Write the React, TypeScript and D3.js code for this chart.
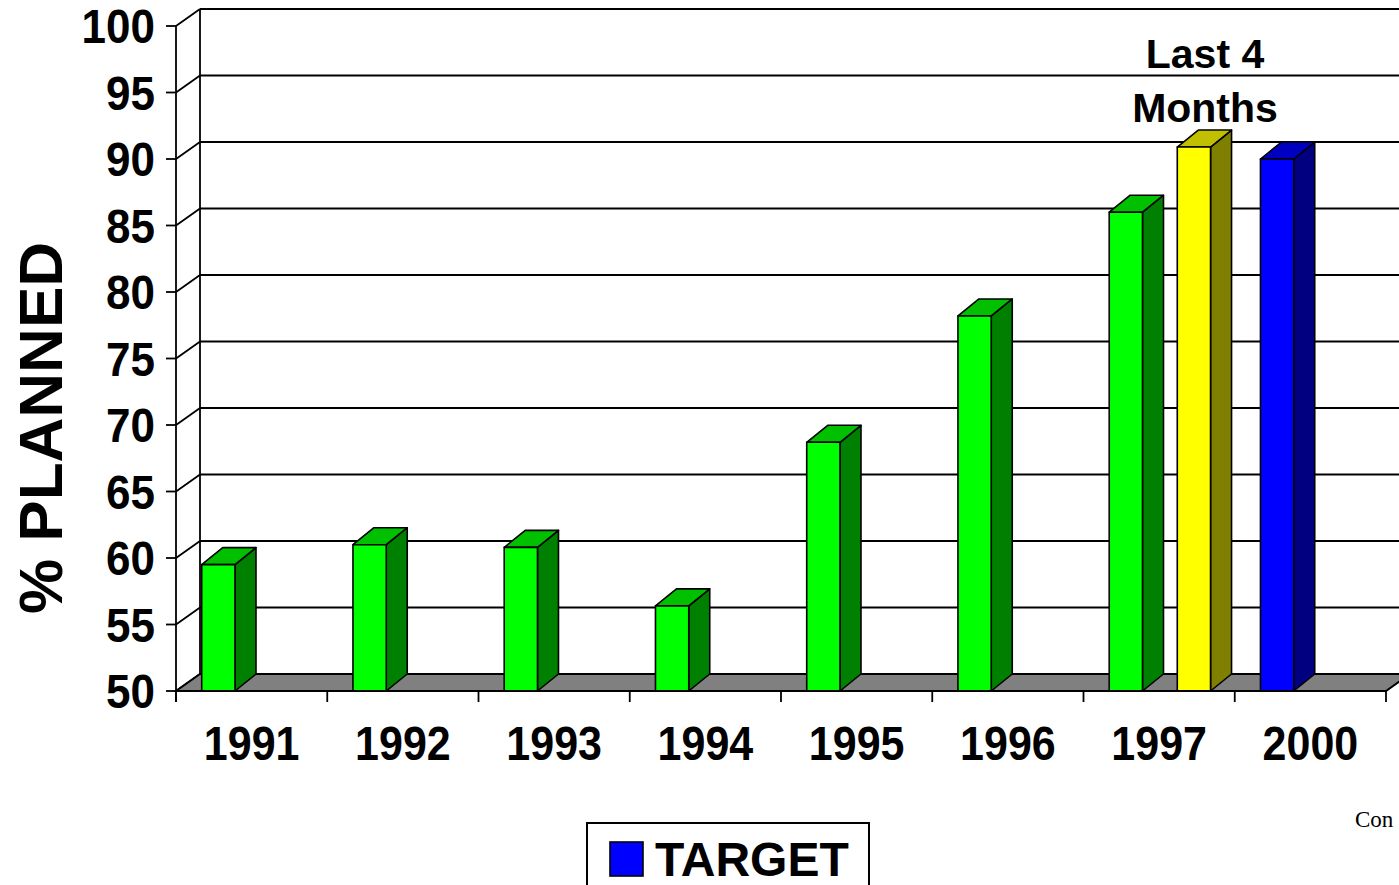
import React from "react";
import * as d3 from "d3";

const categories = ["1991", "1992", "1993", "1994", "1995", "1996", "1997", "2000"];
const actualValues: (number | null)[] = [59.5, 61.0, 60.8, 56.4, 68.7, 78.2, 86.0, null];
const last4Values: (number | null)[] = [null, null, null, null, null, null, 90.9, null];
const targetValues: (number | null)[] = [null, null, null, null, null, null, null, 90.0];
const yTicks = [50, 55, 60, 65, 70, 75, 80, 85, 90, 95, 100];

const series = [
  { name: "ACTUAL", values: actualValues, slot: 0, front: "#00FF00", top: "#00C000", side: "#008000" },
  { name: "Last 4 Months", values: last4Values, slot: 1, front: "#FFFF00", top: "#C0C000", side: "#808000" },
  { name: "TARGET", values: targetValues, slot: 0, front: "#0000FF", top: "#0000C0", side: "#000080" },
];

const W = 1399;
const H = 885;
const X0 = 176;
const X1 = 1386;
const Y0 = 691;
const Y1 = 26;
const FD = { dx: 24, dy: -17 }; // floor / wall depth
const BD = { dx: 21, dy: -17 }; // bar depth
const slotOffset = [0.17, 0.62];
const slotWidth = 0.22;

export default function App() {
  const x = d3.scaleBand<string>().domain(categories).range([X0, X1]).padding(0);
  const y = d3.scaleLinear().domain([50, 100]).range([Y0, Y1]);
  const bw = x.bandwidth();
  const backRight = W + 40;

  const bars: JSX.Element[] = [];
  series.forEach((s, si) => {
    s.values.forEach((v, i) => {
      if (v == null) return;
      const xl = (x(categories[i]) as number) + slotOffset[s.slot] * bw;
      const xr = xl + slotWidth * bw;
      const yt = y(v);
      const yb = y(50);
      const pts = (a: number[][]) => a.map((p) => p.join(",")).join(" ");
      bars.push(
        <g key={`b${si}-${i}`} stroke="#000" strokeWidth={1.6} strokeLinejoin="round">
          <polygon points={pts([[xr, yb], [xr + BD.dx, yb + BD.dy], [xr + BD.dx, yt + BD.dy], [xr, yt]])} fill={s.side} />
          <polygon points={pts([[xl, yt], [xr, yt], [xr + BD.dx, yt + BD.dy], [xl + BD.dx, yt + BD.dy]])} fill={s.top} />
          <rect x={xl} y={yt} width={xr - xl} height={yb - yt} fill={s.front} />
        </g>
      );
    });
  });

  const numStyle: React.CSSProperties = { fontFamily: "'Liberation Sans', Arial, sans-serif", fontWeight: 700 };

  return (
    <svg width={W} height={H} style={{ position: "absolute", left: 0, top: 0, background: "#fff" }}>
      <rect x={0} y={0} width={W} height={H} fill="#fff" />
      {/* back wall gridlines */}
      {yTicks.map((t) => (
        <line key={`g${t}`} x1={X0 + FD.dx} x2={backRight} y1={y(t) + FD.dy} y2={y(t) + FD.dy} stroke="#000" strokeWidth={1.8} />
      ))}
      {/* left wall gridlines */}
      {yTicks.map((t) => (
        <line key={`lw${t}`} x1={X0} x2={X0 + FD.dx} y1={y(t)} y2={y(t) + FD.dy} stroke="#000" strokeWidth={1.8} />
      ))}
      <line x1={X0 + FD.dx} x2={X0 + FD.dx} y1={y(100) + FD.dy} y2={y(50) + FD.dy} stroke="#000" strokeWidth={1.8} />
      {/* floor */}
      <polygon
        points={`${X0},${Y0} ${X0 + FD.dx},${Y0 + FD.dy} ${X1 + FD.dx},${Y0 + FD.dy} ${X1},${Y0}`}
        fill="#808080"
        stroke="#000"
        strokeWidth={2}
      />
      {bars}
      {/* front axis */}
      <line x1={X0} x2={X0} y1={y(100)} y2={Y0 + 11} stroke="#000" strokeWidth={1.8} />
      {yTicks.map((t) => (
        <line key={`yt${t}`} x1={X0 - 10} x2={X0} y1={y(t)} y2={y(t)} stroke="#000" strokeWidth={1.8} />
      ))}
      <line x1={X0} x2={X1} y1={Y0} y2={Y0} stroke="#000" strokeWidth={2} />
      {d3.range(categories.length + 1).map((i) => {
        const xx = X0 + i * bw;
        return <line key={`xt${i}`} x1={xx} x2={xx} y1={Y0} y2={Y0 + 11} stroke="#000" strokeWidth={1.8} />;
      })}
      {/* y tick labels */}
      {yTicks.map((t) => (
        <text
          key={`yl${t}`}
          transform={`translate(${X0 - 21},${y(t) + 17}) scale(1,1.1)`}
          textAnchor="end"
          fontSize={44}
          style={numStyle}
        >
          {t}
        </text>
      ))}
      {/* x tick labels */}
      {categories.map((c) => (
        <text
          key={`xl${c}`}
          transform={`translate(${(x(c) as number) + bw / 2},${760}) scale(1,1.12)`}
          textAnchor="middle"
          fontSize={43}
          style={numStyle}
        >
          {c}
        </text>
      ))}
      {/* y axis title */}
      <text
        transform={`translate(62,428) rotate(-90)`}
        textAnchor="middle"
        fontSize={62}
        style={numStyle}
      >
        % PLANNED
      </text>
      {/* annotation */}
      <text x={1205} y={68} textAnchor="middle" fontSize={41} style={numStyle}>
        Last 4
      </text>
      <text x={1205} y={122} textAnchor="middle" fontSize={41} style={numStyle}>
        Months
      </text>
      {/* legend */}
      <rect x={587} y={823} width={282} height={100} fill="#fff" stroke="#000" strokeWidth={2} />
      <rect x={610} y={842} width={33} height={34} fill="#0000FF" stroke="#000" strokeWidth={1.6} />
      <text x={655} y={876} fontSize={48} style={numStyle}>
        TARGET
      </text>
      <text x={1355} y={827} fontSize={23} style={{ fontFamily: "'Liberation Serif', 'Times New Roman', serif" }}>
        Con
      </text>
    </svg>
  );
}
